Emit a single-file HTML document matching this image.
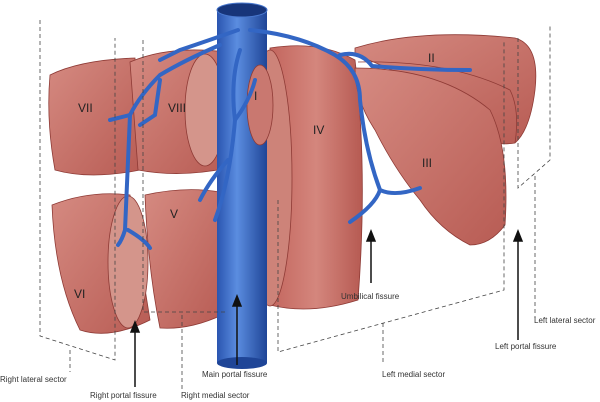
<!DOCTYPE html>
<html><head><style>body{margin:0;background:#fff}svg{display:block}text{font-family:"Liberation Sans",sans-serif}</style></head><body>
<svg width="600" height="402" viewBox="0 0 600 402" xmlns="http://www.w3.org/2000/svg">
<defs>
<linearGradient id="liv" x1="0" y1="0" x2="1" y2="1"><stop offset="0" stop-color="#d58a81"/><stop offset="1" stop-color="#b85c54"/></linearGradient>
<linearGradient id="liv2" x1="0" y1="0" x2="1" y2="0"><stop offset="0" stop-color="#c3665e"/><stop offset="0.5" stop-color="#d4867d"/><stop offset="1" stop-color="#b65a52"/></linearGradient>
<linearGradient id="ivc" x1="0" y1="0" x2="1" y2="0"><stop offset="0" stop-color="#2a55b0"/><stop offset="0.4" stop-color="#5b8de0"/><stop offset="1" stop-color="#1f4597"/></linearGradient>
</defs>
<g stroke="#8e3a35" stroke-width="0.8">
<path d="M50 75 Q80 60 135 58 L140 170 Q90 180 55 170 Q46 120 50 75Z" fill="url(#liv)"/>
<path d="M130 62 Q170 45 225 52 L228 168 Q180 178 138 170Z" fill="url(#liv)"/>
<ellipse cx="205" cy="110" rx="20" ry="56" fill="#d4958b"/>
<path d="M52 205 Q90 190 130 195 L150 320 Q110 340 80 330 Q55 280 52 205Z" fill="url(#liv)"/>
<ellipse cx="128" cy="262" rx="20" ry="66" fill="#d4958b"/>
<path d="M145 195 Q185 186 220 192 L222 315 Q190 330 160 328 Q148 270 145 195Z" fill="url(#liv)"/>
<path d="M270 48 Q320 40 355 60 Q368 170 358 300 Q310 315 270 305Z" fill="url(#liv2)"/>
<ellipse cx="270" cy="178" rx="22" ry="128" fill="#cd8379"/>
<path d="M355 48 Q420 28 515 38 Q540 45 535 90 Q530 130 515 143 Q470 150 440 100 Q400 70 355 55Z" fill="url(#liv)"/>
<path d="M358 62 Q450 60 510 90 Q520 110 515 143" fill="none"/>
<path d="M355 68 Q440 68 490 110 Q510 150 505 225 Q490 245 470 245 Q440 230 420 200 Q395 170 375 130 Q355 100 355 68Z" fill="url(#liv)"/>
</g>
<rect x="217" y="8" width="50" height="355" fill="url(#ivc)"/>
<ellipse cx="242" cy="363" rx="25" ry="6" fill="#1f4597"/>
<ellipse cx="242" cy="10" rx="25" ry="7" fill="#17357a" stroke="#4a79cf"/>
<ellipse cx="260" cy="105" rx="13" ry="40" fill="#c97870" stroke="#8e3a35" stroke-width="0.8"/>
<g fill="none" stroke="#3366c4" stroke-width="4" stroke-linecap="round">
<path d="M238 30 Q210 40 180 50 L160 60"/>
<path d="M250 30 Q300 35 335 55 Q360 70 360 100 Q365 150 380 190 Q375 205 350 222"/>
<path d="M380 190 Q395 197 420 188"/>
<path d="M340 55 Q360 50 372 66 Q420 70 470 70"/>
<path d="M220 45 Q185 60 160 75 Q140 95 130 115 L125 230 Q122 240 118 245"/>
<path d="M130 115 L110 120"/>
<path d="M160 80 L155 115 L140 125"/>
<path d="M128 230 Q145 240 150 248"/>
<path d="M240 50 Q230 80 235 120 Q230 180 215 220"/>
<path d="M235 120 Q250 100 255 80"/>
<path d="M228 160 Q210 180 200 200"/>
</g>
<g font-size="12" fill="#222">
<text x="78" y="112">VII</text><text x="168" y="112">VIII</text><text x="254" y="100">I</text>
<text x="313" y="134">IV</text><text x="428" y="62">II</text><text x="422" y="167">III</text>
<text x="170" y="218">V</text><text x="74" y="298">VI</text>
</g>
<g fill="none" stroke="#444" stroke-width="0.8" stroke-dasharray="4,3">
<path d="M40 20 L40 336 L115 360 L115 38"/>
<path d="M70 350 L70 372"/>
<path d="M143 40 L143 312 L228 312"/>
<path d="M182 315 L182 392"/>
<path d="M278 200 L278 352 L504 290 L504 40"/>
<path d="M383 323 L383 365"/>
<path d="M518 38 L518 188 L550 160 L550 25"/>
<path d="M535 176 L535 318"/>
</g>
<g stroke="#111" stroke-width="1.5" fill="#111">
<line x1="371" y1="283" x2="371" y2="240"/><path d="M367 241 L371 231 L375 241Z"/>
<line x1="237" y1="365" x2="237" y2="305"/><path d="M233 306 L237 296 L241 306Z"/>
<line x1="135" y1="387" x2="135" y2="331"/><path d="M131 332 L135 322 L139 332Z"/>
<line x1="518" y1="340" x2="518" y2="240"/><path d="M514 241 L518 231 L522 241Z"/>
</g>
<g font-size="8" fill="#333">
<text x="341" y="299">Umbilical fissure</text>
<text x="534" y="323">Left lateral sector</text>
<text x="495" y="349">Left portal fissure</text>
<text x="382" y="377">Left medial sector</text>
<text x="202" y="377">Main portal fissure</text>
<text x="0" y="382">Right lateral sector</text>
<text x="90" y="398">Right portal fissure</text>
<text x="181" y="398">Right medial sector</text>
</g>
</svg>
</body></html>
